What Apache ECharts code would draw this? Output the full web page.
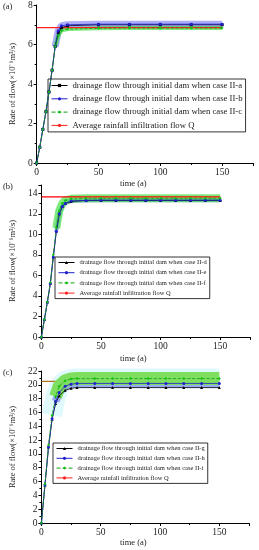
<!DOCTYPE html>
<html><head><meta charset="utf-8">
<script src="https://cdn.jsdelivr.net/npm/echarts@6/dist/echarts.min.js"></script>
<style>html,body{margin:0;padding:0;background:#fff}#c{width:259px;height:550px}</style>
</head><body><div id="c"></div>
<script>
// ---- data ----
const tA = [0, 2.5, 5, 7.5, 10, 12.5, 15, 17.5, 20, 25, 50, 75, 100, 125, 150];
const aBlack = [0, 0.8, 1.7, 2.6, 3.6, 4.7, 5.9, 6.6, 6.85, 6.95, 7.0, 7.0, 7.0, 7.0, 7.0];
const aBlue  = [0, 0.8, 1.7, 2.6, 3.6, 4.7, 5.9, 6.7, 6.95, 7.0, 7.03, 7.03, 7.03, 7.03, 7.03];
const aGreen = [0, 0.8, 1.7, 2.6, 3.6, 4.7, 5.9, 6.45, 6.7, 6.78, 6.82, 6.83, 6.83, 6.83, 6.83];
const aQ = 6.85;

const tB = [0, 2.5, 5, 7.5, 10, 12.5, 15, 17.5, 20, 25, 37.5, 50, 62.5, 75, 87.5, 100, 112.5, 125, 137.5, 150];
const bBlack = [0, 1.7, 3.4, 5.2, 7.8, 10.3, 12.0, 12.7, 13.0, 13.2, 13.3, 13.3, 13.3, 13.3, 13.3, 13.3, 13.3, 13.3, 13.3, 13.3];
const bBlue  = [0, 1.7, 3.4, 5.2, 7.8, 10.3, 12.0, 12.7, 13.0, 13.25, 13.3, 13.32, 13.32, 13.32, 13.32, 13.32, 13.32, 13.32, 13.32, 13.32];
const bGreen = [0, 1.7, 3.4, 5.3, 8.0, 10.6, 12.3, 13.0, 13.3, 13.45, 13.5, 13.5, 13.5, 13.5, 13.5, 13.5, 13.5, 13.5, 13.5, 13.5];
const bQ = 13.65;

const tC = [0, 3, 6, 9, 12, 15, 20, 25, 30, 45, 60, 75, 90, 105, 120, 135, 150];
const cBlack = [0, 5.5, 11.0, 15.0, 17.3, 18.4, 19.2, 19.5, 19.6, 19.6, 19.6, 19.6, 19.6, 19.6, 19.6, 19.6, 19.6];
const cBlue  = [0, 5.5, 11.0, 15.1, 17.6, 18.9, 19.8, 20.1, 20.2, 20.2, 20.2, 20.2, 20.2, 20.2, 20.2, 20.2, 20.2];
const cGreen = [0, 5.6, 11.3, 15.6, 18.3, 19.8, 20.6, 20.85, 20.9, 20.9, 20.9, 20.9, 20.9, 20.9, 20.9, 20.9, 20.9];
const cQ = 20.5;

const xTicks = [0, 50, 100, 150];
const legendNamesA = ['drainage flow through initial dam when case II-a','drainage flow through initial dam when case II-b','drainage flow through initial dam when case II-c','Average rainfall infiltration flow Q'];
const legendNamesB = ['drainage flow through initial dam when case II-d','drainage flow through initial dam when case II-e','drainage flow through initial dam when case II-f','Average rainfall infiltration flow Q'];
const legendNamesC = ['drainage flow through initial dam when case II-g','drainage flow through initial dam when case II-h','drainage flow through initial dam when case II-i','Average rainfall infiltration flow Q'];

// ---- build ----
const FONT = 'Liberation Serif';
const pair = (t, v) => t.map((x, i) => [x, v[i]]);
const pairFrom = (t, v, t0) => pair(t, v).filter(d => d[0] >= t0);
const grids = [
  {left: 33, top: 5, width: 220, height: 158},
  {left: 40, top: 185, width: 210, height: 152},
  {left: 39, top: 371, width: 210, height: 152}
];
const yMax = [8, 14.8, 22];
const xAxes = [], yAxes = [], series = [], legends = [];
const panels = [
  {t: tA, k: aBlack, b: aBlue, g: aGreen, q: aQ, names: legendNamesA, blackSym: 'rect', qColor: '#ff2020', bandB: 7, bandG: 4, bandStart: 15, qTop: true,
   legendTop: 79, legendLeft: 48, lFont: 8.7, lGap: 4.3},
  {t: tB, k: bBlack, b: bBlue, g: bGreen, q: bQ, names: legendNamesB, blackSym: 'triangle', qColor: '#ff0000', bandB: 4, bandG: 8, bandStart: 12.5, qTop: true,
   legendTop: 257, legendLeft: 55, lFont: 6.5, lGap: 3.2},
  {t: tC, k: cBlack, b: cBlue, g: cGreen, q: cQ, names: legendNamesC, blackSym: 'triangle', qColor: '#b07020', bandB: 8, bandG: 13, bandStart: 12, qTop: false,
   legendTop: 443, legendLeft: 53, lFont: 6.5, lGap: 2.8}
];
panels.forEach((p, i) => {
  xAxes.push({
    gridIndex: i, type: 'value', min: 0, max: 175, interval: 50,
    axisLine: {lineStyle: {color: '#000', width: 1}},
    axisTick: {length: 3, lineStyle: {color: '#000'}},
    minorTick: {show: true, splitNumber: 2, length: 2, lineStyle: {color: '#000'}},
    splitLine: {show: false},
    axisLabel: {fontFamily: FONT, fontSize: 9.5, color: '#222', margin: 4, showMaxLabel: false,
      formatter: v => xTicks.includes(v) ? String(v) : ''}
  });
  yAxes.push({
    gridIndex: i, type: 'value', min: 0, max: yMax[i], interval: 2,
    axisLine: {show: true, lineStyle: {color: '#000', width: 1}},
    axisTick: {show: true, length: 3, lineStyle: {color: '#000'}},
    minorTick: {show: true, splitNumber: 2, length: 2, lineStyle: {color: '#000'}},
    splitLine: {show: false},
    axisLabel: {fontFamily: FONT, fontSize: 9.5, color: '#222', margin: 4, showMaxLabel: i !== 1},
    name: 'Rate of flow(×10⁻⁶m³/s)', nameLocation: 'middle', nameGap: i === 0 ? 19 : 24,
    nameTextStyle: {fontFamily: FONT, fontSize: 8.5, color: '#222'}
  });
  const qData = [[0, p.q], [150, p.q]];
  if (i === 2) {
    series.push({name: 'haze', type: 'line', xAxisIndex: i, yAxisIndex: i, data: pairFrom(p.t, p.g, 9),
      symbol: 'none', lineStyle: {color: 'rgba(150,235,245,0.3)', width: 20}, z: 1, silent: true});
  }
  series.push({name: p.names[3], type: 'line', xAxisIndex: i, yAxisIndex: i, data: qData,
    symbol: 'none', lineStyle: {color: p.qColor, width: 1.3}, itemStyle: {color: p.qColor},
    z: p.qTop ? 6 : 1, silent: true});
  series.push({name: 'bandB' + i, type: 'line', xAxisIndex: i, yAxisIndex: i, data: pairFrom(p.t, p.b, p.bandStart),
    symbol: 'none', lineStyle: {color: 'rgba(70,70,240,0.45)', width: p.bandB}, z: 2, silent: true});
  series.push({name: 'bandG' + i, type: 'line', xAxisIndex: i, yAxisIndex: i, data: pairFrom(p.t, p.g, p.bandStart),
    symbol: 'none', lineStyle: {color: i === 2 ? 'rgb(125,222,95)' : 'rgba(40,220,40,0.6)', width: p.bandG}, z: 3, silent: true});
  series.push({name: p.names[0], type: 'line', xAxisIndex: i, yAxisIndex: i, data: pair(p.t, p.k),
    symbol: p.blackSym, symbolSize: 3, showAllSymbol: true, lineStyle: {color: '#000', width: 0.8}, itemStyle: {color: '#000'}, z: 7});
  series.push({name: p.names[1], type: 'line', xAxisIndex: i, yAxisIndex: i, data: pair(p.t, p.b),
    symbol: 'circle', symbolSize: 3, showAllSymbol: true, lineStyle: {color: '#2020d0', width: 0.8}, itemStyle: {color: '#2020d0'}, z: 8});
  series.push({name: p.names[2], type: 'line', xAxisIndex: i, yAxisIndex: i, data: pair(p.t, p.g),
    symbol: 'diamond', symbolSize: 3, showAllSymbol: true, lineStyle: {color: '#10a010', width: 0.8, type: 'dashed'}, itemStyle: {color: '#10c010'}, z: 8});
  legends.push({
    data: p.names, orient: 'vertical', left: p.legendLeft, top: p.legendTop,
    itemWidth: 16, itemHeight: 4, itemGap: p.lGap, padding: [2, 3, 2, 3],
    borderColor: '#000', borderWidth: 0.8, backgroundColor: '#fff',
    itemStyle: {borderWidth: 0}, lineStyle: {width: 1},
    textStyle: {fontFamily: FONT, fontSize: p.lFont, color: '#222'}, selectedMode: false
  });
});

const chart = echarts.init(document.getElementById('c'), null, {renderer: 'canvas'});
chart.setOption({
  animation: false,
  backgroundColor: '#fff',
  grid: grids,
  xAxis: xAxes,
  yAxis: yAxes,
  legend: legends,
  series: series,
  graphic: [
    {type: 'text', left: 3, top: 2, style: {text: '(a)', font: '8.5px "Liberation Serif"', fill: '#222'}},
    {type: 'text', left: 3, top: 182, style: {text: '(b)', font: '8.5px "Liberation Serif"', fill: '#222'}},
    {type: 'text', left: 3, top: 368, style: {text: '(c)', font: '8.5px "Liberation Serif"', fill: '#222'}},
    {type: 'text', left: 120, top: 179, style: {text: 'time (a)', font: '8.5px "Liberation Serif"', fill: '#222'}},
    {type: 'text', left: 120, top: 354, style: {text: 'time (a)', font: '8.5px "Liberation Serif"', fill: '#222'}},
    {type: 'text', left: 120, top: 538, style: {text: 'time (a)', font: '8.5px "Liberation Serif"', fill: '#222'}}
  ]
});
</script></body></html>
